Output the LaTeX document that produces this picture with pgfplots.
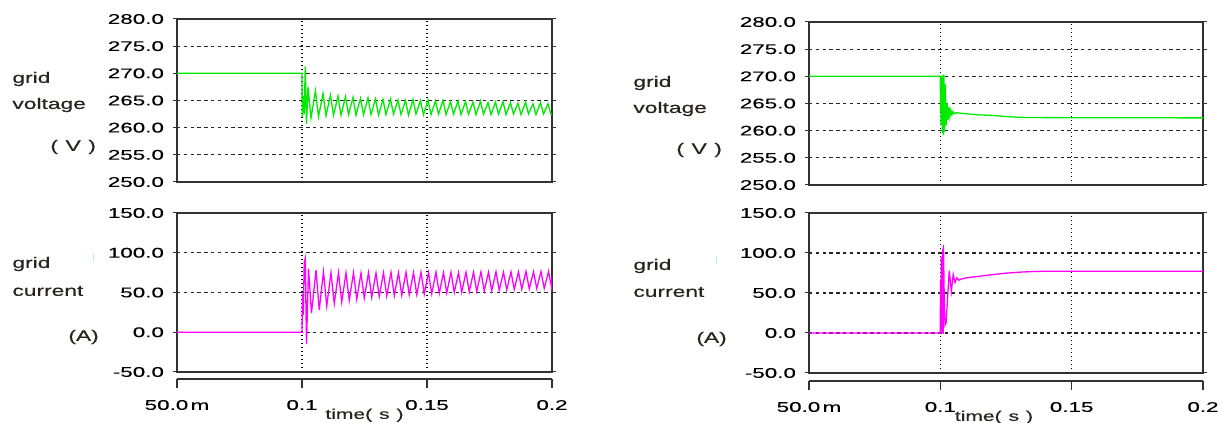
\documentclass[border=0pt]{standalone}
\usepackage{fontspec}
\usepackage{pgfplots}
\pgfplotsset{compat=1.18}
\newfontfamily\tickfont[FakeStretch=1.6, FakeBold=0.25]{Liberation Sans}
\newfontfamily\labfont[FakeStretch=1.5, FakeBold=0.5]{Liberation Sans}
\definecolor{sgreen}{RGB}{0,235,0}
\definecolor{smag}{RGB}{255,0,255}
\definecolor{framec}{RGB}{50,50,50}
\definecolor{labc}{RGB}{40,35,30}
\pgfplotsset{
  panel/.style={scale only axis, xmin=0.05, xmax=0.2,
    xtick={0.1,0.15}, xticklabels={}, xtick style={draw=none},
    xmajorgrids, ymajorgrids,
    x grid style={black, line width=0.7pt, dash pattern=on 0.7pt off 1.3pt},
    y grid style={black!85, line width=0.55pt, dash pattern=on 1.7pt off 1.7pt},
    axis line style={framec, line width=0.7pt},
    ytick style={framec, line width=0.5pt}, tick align=outside, major tick length=2pt,
    yticklabel style={font=\fontsize{7}{8}\selectfont\tickfont, text=black, xshift=-1pt},
    /pgf/number format/fixed, /pgf/number format/fixed zerofill,
    /pgf/number format/precision=1, /pgf/number format/assume math mode=true,
  },
  xline/.style={scale only axis, height=5pt, xmin=0.05, xmax=0.2, ymin=0, ymax=1,
    axis x line=bottom, axis y line=none, axis line style={-, framec, line width=0.7pt},
    xtick={0.05,0.1,0.15,0.2}, xticklabels={50.0\,m,0.1,0.15,0.2},
    tick align=outside, major tick length=4.5pt, xtick style={framec, line width=0.7pt},
    xticklabel style={font=\fontsize{7}{8}\selectfont\tickfont, text=black, yshift=-2.5pt},
    xlabel={time(\enspace s\enspace)}, xlabel style={font=\fontsize{7}{8}\selectfont\labfont, text=labc, yshift=7.5pt},
  },
  vplot/.style={sgreen, line width=0.65pt},
  cplot/.style={smag, line width=0.65pt},
}
\begin{document}
\begin{tikzpicture}
% ---------------- left voltage
\begin{axis}[panel, at={(88.5pt,120.5pt)}, anchor=south west, width=187.5pt, height=81.5pt,
  ymin=250, ymax=280, ytick={250,255,...,280}]
\addplot[vplot] coordinates {
(0.05,270) (0.1,270) (0.1001,262.0) (0.1005,265.8) (0.1009,262.5) (0.1013,271.3) (0.1018,260.7) (0.1024,267.5) (0.1036,261.8)
(0.1054,266.8) (0.1066,262.0) (0.1084,266.3) (0.1096,262.2) (0.1114,266.0) (0.1126,262.3) (0.1144,265.8) (0.1156,262.3)
(0.1174,265.7) (0.1186,262.4) (0.1204,265.6) (0.1216,262.3) (0.1234,265.4) (0.1246,262.4) (0.1264,265.5) (0.1276,262.4)
(0.1294,265.3) (0.1306,262.3) (0.1324,265.2) (0.1336,262.4) (0.1354,265.3) (0.1366,262.5) (0.1384,265.1) (0.1396,262.4)
(0.1414,265.0) (0.1426,262.3) (0.1444,265.2) (0.1456,262.5) (0.1474,265.0) (0.1486,262.4) (0.1504,265.1) (0.1516,262.4)
(0.1534,264.9) (0.1546,262.5) (0.1564,265.0) (0.1576,262.4) (0.1594,264.8) (0.1606,262.5) (0.1624,264.9) (0.1636,262.4)
(0.1654,264.8) (0.1666,262.5) (0.1684,264.7) (0.1696,262.4) (0.1714,264.9) (0.1726,262.5) (0.1744,264.6) (0.1756,262.4)
(0.1774,264.7) (0.1786,262.5) (0.1804,264.8) (0.1816,262.4) (0.1834,264.6) (0.1846,262.5) (0.1864,264.5) (0.1876,262.4)
(0.1894,264.7) (0.1906,262.5) (0.1924,264.4) (0.1936,262.4) (0.1954,264.6) (0.1966,262.5) (0.1984,264.4) (0.1996,262.4)
(0.2,262.5)
};
\draw[framec, line width=0.5pt] ([xshift=-1.2pt]rel axis cs:0,0) -- ([xshift=-1.2pt]rel axis cs:0,1);
\end{axis}
% ---------------- left current
\begin{axis}[panel, at={(88.5pt,25.5pt)}, anchor=south west, width=187.5pt, height=79.5pt,
  ymin=-50, ymax=150, ytick={-50,0,...,150}]
\addplot[cplot] coordinates {
(0.05,0) (0.1,0) (0.1002,48) (0.1005,22) (0.1009,88) (0.1013,93) (0.1018,-15) (0.1026,80) (0.1038,24)
(0.1056,78) (0.1069,28) (0.1086,76) (0.1099,33) (0.1116,75) (0.1129,36) (0.1146,75) (0.1159,38)
(0.1176,74.5) (0.1189,40) (0.1206,75) (0.1219,41.5) (0.1236,74.5) (0.1249,43) (0.1266,75) (0.1279,44)
(0.1296,74.5) (0.1309,45) (0.1326,75) (0.1339,45.5) (0.1356,75.5) (0.1369,46) (0.1386,75) (0.1399,46.5)
(0.1416,75.5) (0.1429,47) (0.1446,75) (0.1459,47.5) (0.1476,75.5) (0.1489,48) (0.1506,75) (0.1519,48.5)
(0.1536,75.5) (0.1549,49) (0.1566,75) (0.1579,49.5) (0.1596,75.5) (0.1609,50) (0.1626,75) (0.1639,50.5)
(0.1656,75.5) (0.1669,51) (0.1686,75.5) (0.1699,51.5) (0.1716,76) (0.1729,52) (0.1746,75.5) (0.1759,52.5)
(0.1776,76) (0.1789,53) (0.1806,75.5) (0.1819,53.5) (0.1836,76) (0.1849,54) (0.1866,76) (0.1879,54)
(0.1896,76.5) (0.1909,54.5) (0.1926,76) (0.1939,55) (0.1956,76.5) (0.1969,55) (0.1986,76.5) (0.1999,55.5)
(0.2,70)
};
\draw[framec, line width=0.5pt] ([xshift=-1.2pt]rel axis cs:0,0) -- ([xshift=-1.2pt]rel axis cs:0,1);
\end{axis}
\begin{axis}[xline, at={(88.5pt,22pt)}, anchor=south west, width=187.5pt]
\end{axis}
% ---------------- right voltage
\begin{axis}[panel, at={(404.5pt,119pt)}, anchor=south west, width=197pt, height=81.5pt,
  ymin=250, ymax=280, ytick={250,255,...,280}]
\addplot[vplot] coordinates {
(0.05,270) (0.1,270) (0.10005,263.5) (0.1001,270) (0.1003,261) (0.1005,270) (0.1008,259.5) (0.1010,270.3)
(0.1012,259.2) (0.1014,270.3) (0.1016,259.8) (0.1019,268.5) (0.1022,261.0) (0.1026,265.0) (0.1029,262.0)
(0.1033,264.3) (0.1036,262.6) (0.1040,263.8) (0.1044,262.9) (0.1048,263.5) (0.1053,263.1) (0.1060,263.3)
(0.11,263.1) (0.115,262.9) (0.12,262.8) (0.125,262.6) (0.13,262.45) (0.14,262.4) (0.2,262.35)
};
\draw[framec, line width=0.5pt] ([xshift=-1.2pt]rel axis cs:0,0) -- ([xshift=-1.2pt]rel axis cs:0,1);
\end{axis}
% ---------------- right current
\begin{axis}[panel, at={(404.5pt,25pt)}, anchor=south west, width=197pt, height=80pt,
  ymin=-50, ymax=150, ytick={-50,0,...,150}]
\addplot[cplot] coordinates {
(0.05,0) (0.1,0) (0.10005,67) (0.1002,3) (0.1004,95) (0.1006,0) (0.1009,105) (0.1011,-1) (0.1012,110)
(0.1015,40) (0.1018,10) (0.1022,13) (0.1034,78) (0.1042,52) (0.1049,73) (0.1056,63) (0.1063,69)
(0.1070,66) (0.108,67.5) (0.11,69) (0.115,71) (0.12,73) (0.125,74.8) (0.13,76) (0.135,76.8) (0.14,77.2) (0.2,77.3)
};
\draw[framec, line width=0.5pt] ([xshift=-1.2pt]rel axis cs:0,0) -- ([xshift=-1.2pt]rel axis cs:0,1);
\end{axis}
\begin{axis}[xline, at={(404.5pt,21pt)}, anchor=south west, width=197pt, xlabel style={xshift=-6pt}]
\end{axis}
% ---------------- side labels
\begin{scope}[every node/.style={font=\fontsize{7.6}{9}\selectfont\labfont, text=labc, anchor=west, inner sep=0pt}]
\node at (6pt,172pt) {grid};
\node at (6pt,159pt) {voltage};
\node at (25pt,138pt) {(\enspace V\enspace)};
\node at (6pt,79.5pt) {grid};
\node at (6pt,66pt) {current};
\node at (34pt,43pt) {(A)};
\node at (316.5pt,170pt) {grid};
\node at (316.5pt,157pt) {voltage};
\node at (338pt,136.5pt) {(\enspace V\enspace)};
\node at (316.5pt,78.5pt) {grid};
\node at (316.5pt,65.5pt) {current};
\node at (348pt,42pt) {(A)};
\end{scope}
\draw[cyan!25, line width=0.5pt] (46.5pt,80.5pt) -- (46.5pt,84.5pt);
\draw[cyan!25, line width=0.5pt] (358pt,79.5pt) -- (358pt,83.5pt);
\pgfresetboundingbox
\path[use as bounding box] (0,0) rectangle (611.5pt,211.5pt);
\end{tikzpicture}
\end{document}
